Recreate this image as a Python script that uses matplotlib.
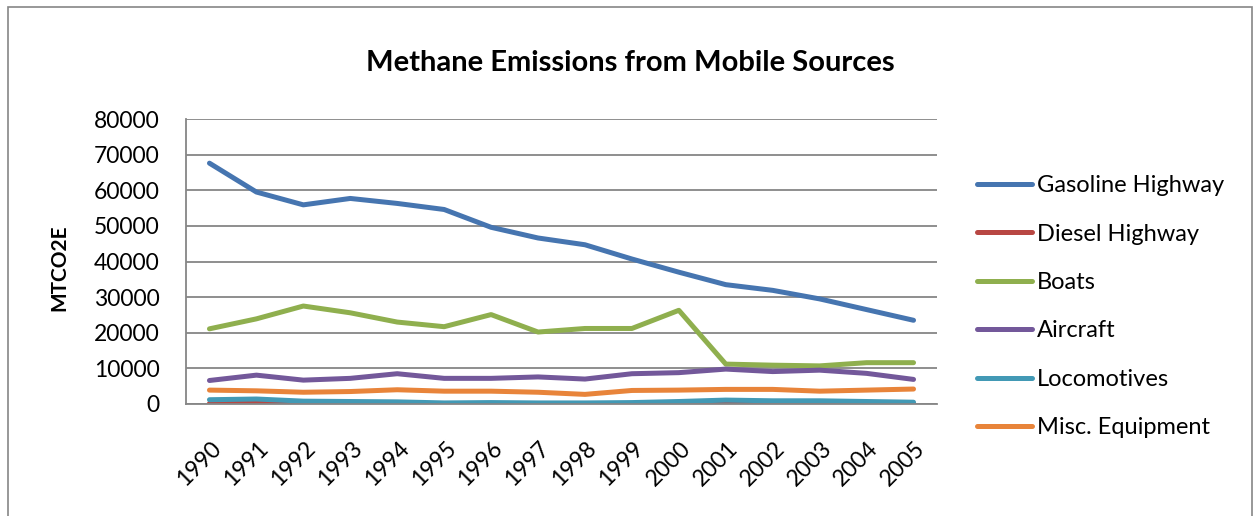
import matplotlib.pyplot as plt
import matplotlib.patches as mpatches
import matplotlib.transforms as mtransforms
import numpy as np

plt.rcParams['font.family'] = ['Lato', 'DejaVu Sans']

years = [str(y) for y in range(1990, 2006)]
gasoline = [67600, 59500, 55900, 57700, 56300, 54600, 49600, 46600, 44700, 40700, 37000, 33500, 31900, 29500, 26500, 23500]
diesel = [150, 150, 120, 120, 120, 100, 100, 100, 100, 100, 120, 150, 150, 150, 150, 150]
boats = [21100, 23900, 27500, 25600, 23000, 21700, 25100, 20200, 21200, 21200, 26300, 11200, 10900, 10700, 11600, 11600]
aircraft = [6600, 8100, 6700, 7200, 8500, 7200, 7200, 7600, 7000, 8500, 8800, 9800, 9100, 9500, 8600, 6900]
locomotives = [1200, 1400, 800, 700, 600, 300, 400, 300, 300, 400, 700, 1100, 900, 900, 700, 500]
misc = [3900, 3700, 3300, 3500, 4000, 3600, 3600, 3300, 2700, 3800, 3900, 4100, 4100, 3600, 3900, 4200]

series = [
    ("Gasoline Highway", gasoline, "#4675B0"),
    ("Diesel Highway", diesel, "#B84743"),
    ("Boats", boats, "#8FAF4E"),
    ("Aircraft", aircraft, "#73589A"),
    ("Locomotives", locomotives, "#4299B5"),
    ("Misc. Equipment", misc, "#E8843A"),
]

W, H = 1255, 516
fig = plt.figure(figsize=(W / 100, H / 100), dpi=100)
ax = fig.add_axes([186 / W, 1 - 404 / H, 751 / W, 285 / H])

x = np.arange(len(years))
for name, vals, col in series:
    ax.plot(x, vals, color=col, linewidth=3.6, label=name, solid_capstyle="round")

ax.set_xlim(-0.5, len(years) - 0.5)
ax.set_ylim(0, 80000)
ax.set_yticks(np.arange(0, 80001, 10000))
ax.set_xticks(x)
ax.set_xticklabels(years, rotation=45, ha="right", va="top", rotation_mode="anchor")
ax.tick_params(axis="both", labelsize=16.5, length=0)
ax.tick_params(axis="x", pad=24)
ax.tick_params(axis="y", pad=19)
shift = mtransforms.ScaledTranslation(1 / 100, 0, fig.dpi_scale_trans)
for lbl in ax.get_xticklabels():
    lbl.set_transform(lbl.get_transform() + shift)

ax.grid(True, axis="y", color="#868686", linewidth=1.3)
ax.set_axisbelow(True)
for s in ["top", "right"]:
    ax.spines[s].set_visible(False)
for s in ["left", "bottom"]:
    ax.spines[s].set_color("#868686")
    ax.spines[s].set_linewidth(1.3)

ax.set_ylabel("MTCO2E", fontsize=15, fontweight="bold")
ax.yaxis.set_label_coords((69 - 186) / 751, (404 - 268) / 285)

fig.text(630 / W, 1 - 63 / H, "Methane Emissions from Mobile Sources",
         fontsize=21, fontweight="bold", ha="center", va="center")

fig.legend(loc="upper left", bbox_to_anchor=(956 / W, 1 - 154 / H), frameon=False,
           fontsize=17, handlelength=2.33, labelspacing=1.16, handletextpad=0.2)

fig.patches.append(mpatches.Rectangle((8 / W, -0.1), 1244 / W, 1.1 - 7 / H,
                                      transform=fig.transFigure, fill=False,
                                      edgecolor="#868686", linewidth=1.2))

fig.savefig("out.png", dpi=100)
